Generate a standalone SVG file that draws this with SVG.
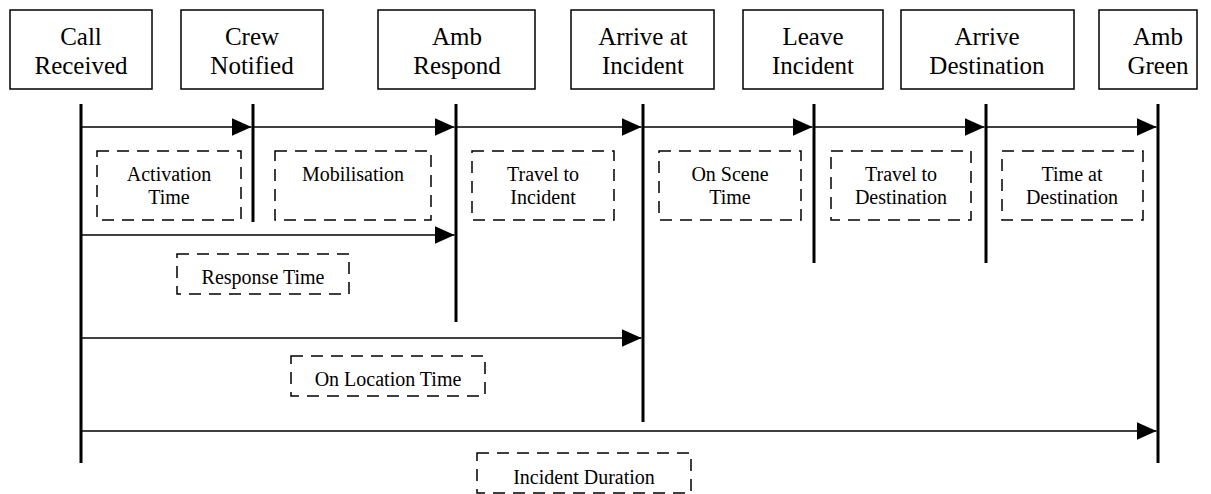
<svg xmlns="http://www.w3.org/2000/svg" width="1211" height="494" viewBox="0 0 1211 494">
<style>
.box{fill:#fff;stroke:#000;stroke-width:1.5}
.dash{fill:none;stroke:#000;stroke-width:1.5;stroke-dasharray:12 8}
.t{font-size:25px;text-anchor:middle;fill:#000}
.s{font-size:20px;text-anchor:middle;fill:#000}
.v{stroke:#000;stroke-width:3}
.h{stroke:#000;stroke-width:1.5;fill:none;marker-end:url(#ah)}
</style>
<defs>
<marker id="ah" viewBox="0 0 20 18" refX="20" refY="9" markerWidth="20" markerHeight="18" markerUnits="userSpaceOnUse" orient="auto">
<path d="M0,0 L20,9 L0,18 Z" fill="#000"/>
</marker>
</defs>
<g font-family="Liberation Serif, Times New Roman, Times, DejaVu Serif, serif">
<g id="n-call"><rect class="box" x="10" y="10" width="142" height="79"/><text class="t" x="81" y="45">Call</text><text class="t" x="81" y="74">Received</text></g>
<g id="n-crew"><rect class="box" x="181" y="10" width="142" height="79"/><text class="t" x="252" y="45">Crew</text><text class="t" x="252" y="74">Notified</text></g>
<g id="n-respond"><rect class="box" x="378" y="10" width="157" height="79"/><text class="t" x="457" y="45">Amb</text><text class="t" x="457" y="74">Respond</text></g>
<g id="n-arrive"><rect class="box" x="571" y="10" width="143" height="79"/><text class="t" x="643" y="45">Arrive at</text><text class="t" x="643" y="74">Incident</text></g>
<g id="n-leave"><rect class="box" x="743" y="10" width="140" height="79"/><text class="t" x="813" y="45">Leave</text><text class="t" x="813" y="74">Incident</text></g>
<g id="n-dest"><rect class="box" x="901" y="10" width="173" height="79"/><text class="t" x="987" y="45">Arrive</text><text class="t" x="987" y="74">Destination</text></g>
<g id="n-green"><rect class="box" x="1099" y="10" width="98" height="79"/><text class="t" x="1158" y="45">Amb</text><text class="t" x="1158" y="74">Green</text></g>
<g id="timelines">
<line class="v" x1="81" y1="104" x2="81" y2="463"/>
<line class="v" x1="253" y1="104" x2="253" y2="222"/>
<line class="v" x1="456" y1="104" x2="456" y2="322"/>
<line class="v" x1="643" y1="104" x2="643" y2="422"/>
<line class="v" x1="814" y1="104" x2="814" y2="263"/>
<line class="v" x1="986" y1="104" x2="986" y2="263"/>
<line class="v" x1="1158" y1="104" x2="1158" y2="463"/>
</g>
<g id="connectors">
<line class="h" x1="82" y1="127" x2="251.5" y2="127"/>
<line class="h" x1="254" y1="127" x2="454.5" y2="127"/>
<line class="h" x1="457" y1="127" x2="641.5" y2="127"/>
<line class="h" x1="644" y1="127" x2="812.5" y2="127"/>
<line class="h" x1="815" y1="127" x2="984.5" y2="127"/>
<line class="h" x1="987" y1="127" x2="1156.5" y2="127"/>
<line class="h" x1="82" y1="235" x2="454.5" y2="235"/>
<line class="h" x1="82" y1="338" x2="641.5" y2="338"/>
<line class="h" x1="82" y1="431" x2="1156.5" y2="431"/>
</g>
<g id="l-activation"><rect class="dash" x="97" y="151" width="144" height="69"/><text class="s" x="169" y="181">Activation</text><text class="s" x="169" y="204">Time</text></g>
<g id="l-mobilisation"><rect class="dash" x="275" y="151" width="156" height="69"/><text class="s" x="353" y="181">Mobilisation</text></g>
<g id="l-travel-inc"><rect class="dash" x="472" y="151" width="142" height="69"/><text class="s" x="543" y="181">Travel to</text><text class="s" x="543" y="204">Incident</text></g>
<g id="l-onscene"><rect class="dash" x="659" y="151" width="142" height="69"/><text class="s" x="730" y="181">On Scene</text><text class="s" x="730" y="204">Time</text></g>
<g id="l-travel-dest"><rect class="dash" x="831" y="151" width="140" height="69"/><text class="s" x="901" y="181">Travel to</text><text class="s" x="901" y="204">Destination</text></g>
<g id="l-time-dest"><rect class="dash" x="1002" y="151" width="141" height="69"/><text class="s" x="1072" y="181">Time at</text><text class="s" x="1072" y="204">Destination</text></g>
<g id="l-response"><rect class="dash" x="177" y="254" width="172" height="40"/><text class="s" x="263" y="284">Response Time</text></g>
<g id="l-onlocation"><rect class="dash" x="291" y="356" width="194" height="40"/><text class="s" x="388" y="386">On Location Time</text></g>
<g id="l-duration"><rect class="dash" x="477" y="453" width="214" height="40"/><text class="s" x="584" y="484">Incident Duration</text></g>
</g>
</svg>
